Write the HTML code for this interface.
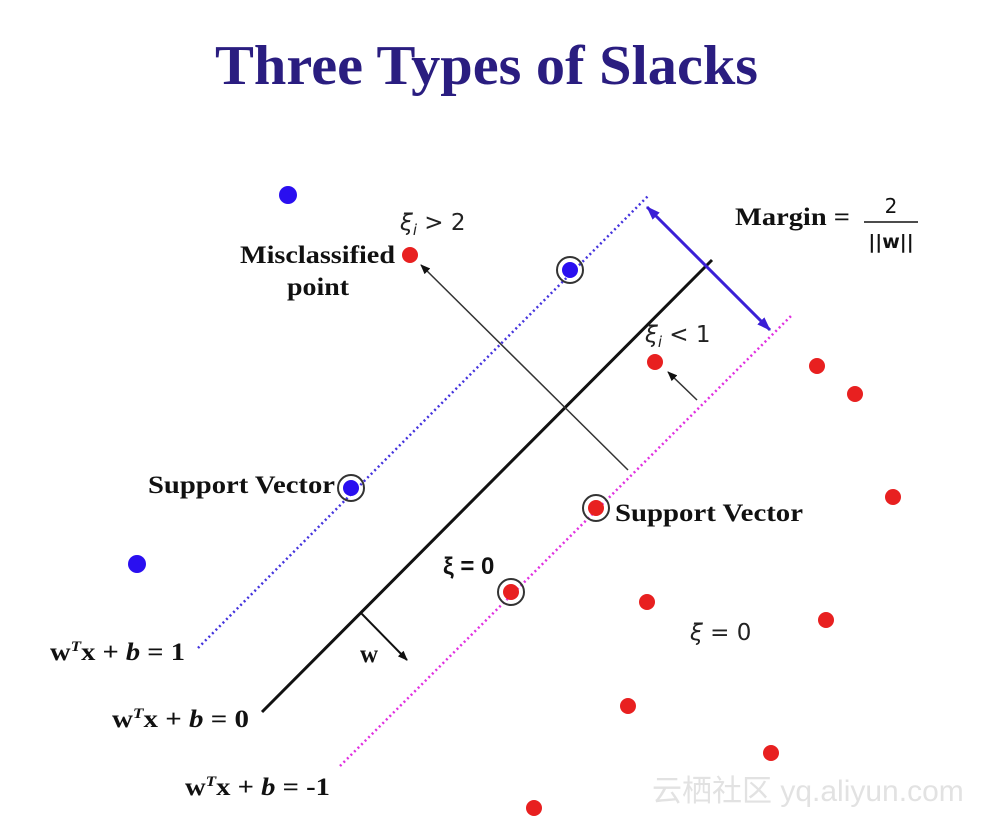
<!DOCTYPE html>
<html><head><meta charset="utf-8"><style>
body{margin:0;background:#fff;}
svg{display:block}
.b{font-family:"Liberation Serif",serif;font-weight:bold;font-size:25px;fill:#111}
.m{font-family:"DejaVu Sans",sans-serif;font-size:23px;fill:#222}
</style></head><body>
<svg width="990" height="817" viewBox="0 0 990 817">
<defs>
<marker id="a" markerWidth="10" markerHeight="8" refX="9" refY="4" orient="auto" markerUnits="userSpaceOnUse"><path d="M0,0 L10,4 L0,8 z" fill="#111"/></marker>
<marker id="p" markerWidth="14" markerHeight="10" refX="13" refY="5" orient="auto-start-reverse" markerUnits="userSpaceOnUse"><path d="M0,0 L14,5 L0,10 z" fill="#3b1fd6"/></marker>
</defs>
<text x="215" y="84" textLength="543" lengthAdjust="spacingAndGlyphs" font-family="Liberation Serif,serif" font-weight="bold" font-size="56" fill="#2a1d80">Three Types of Slacks</text>
<line x1="198" y1="648" x2="648" y2="196" stroke="#4433dd" stroke-width="2.5" stroke-dasharray="2,3"/>
<line x1="340" y1="766" x2="792" y2="315" stroke="#e030e0" stroke-width="2.5" stroke-dasharray="2,3"/>
<line x1="262" y1="712" x2="712" y2="260" stroke="#111" stroke-width="3"/>
<line x1="647" y1="207" x2="770" y2="330" stroke="#3b1fd6" stroke-width="3" marker-start="url(#p)" marker-end="url(#p)"/>
<line x1="628" y1="470" x2="421" y2="265" stroke="#333" stroke-width="1.5" marker-end="url(#a)"/>
<line x1="697" y1="400" x2="668" y2="372" stroke="#333" stroke-width="1.5" marker-end="url(#a)"/>
<line x1="360" y1="612" x2="407" y2="660" stroke="#111" stroke-width="2" marker-end="url(#a)"/>
<g fill="#2a0ff0">
<circle cx="288" cy="195" r="9"/><circle cx="570" cy="270" r="8"/><circle cx="351" cy="488" r="8"/><circle cx="137" cy="564" r="9"/>
</g>
<g fill="#e82020">
<circle cx="410" cy="255" r="8"/><circle cx="655" cy="362" r="8"/><circle cx="817" cy="366" r="8"/><circle cx="855" cy="394" r="8"/><circle cx="893" cy="497" r="8"/><circle cx="596" cy="508" r="8"/><circle cx="511" cy="592" r="8"/><circle cx="647" cy="602" r="8"/><circle cx="826" cy="620" r="8"/><circle cx="628" cy="706" r="8"/><circle cx="771" cy="753" r="8"/><circle cx="534" cy="808" r="8"/>
</g>
<g fill="none" stroke="#333" stroke-width="2">
<circle cx="570" cy="270" r="13"/><circle cx="351" cy="488" r="13"/><circle cx="596" cy="508" r="13"/><circle cx="511" cy="592" r="13"/>
</g>
<text class="b" x="240" y="263" textLength="155" lengthAdjust="spacingAndGlyphs">Misclassified</text>
<text class="b" x="287" y="295" textLength="62" lengthAdjust="spacingAndGlyphs">point</text>
<text class="b" x="148" y="493" textLength="187" lengthAdjust="spacingAndGlyphs">Support Vector</text>
<text class="b" x="615" y="521" textLength="188" lengthAdjust="spacingAndGlyphs">Support Vector</text>
<text class="b" x="735" y="225" textLength="115" lengthAdjust="spacingAndGlyphs">Margin =</text>
<text x="891" y="213" text-anchor="middle" font-family="DejaVu Sans,sans-serif" font-size="20" fill="#111">2</text>
<line x1="864" y1="222" x2="918" y2="222" stroke="#111" stroke-width="1.5"/>
<text x="891" y="248" text-anchor="middle" font-family="DejaVu Sans,sans-serif" font-weight="bold" font-size="19" fill="#111">||w||</text>
<text class="m" x="400" y="230"><tspan font-style="italic">ξ</tspan><tspan font-size="15" font-style="italic" dy="5">i</tspan><tspan dy="-5"> &gt; 2</tspan></text>
<text class="m" x="645" y="342"><tspan font-style="italic">ξ</tspan><tspan font-size="15" font-style="italic" dy="5">i</tspan><tspan dy="-5"> &lt; 1</tspan></text>
<text x="443" y="574" font-family="Liberation Sans,sans-serif" font-weight="bold" font-size="24" fill="#111">ξ = 0</text>
<text class="m" x="690" y="640" font-style="italic">ξ <tspan font-style="normal">= 0</tspan></text>
<text class="b" x="360" y="662">w</text>
<text class="b" x="50" y="660" textLength="135" lengthAdjust="spacingAndGlyphs">w<tspan font-size="15" dy="-9" font-style="italic">T</tspan><tspan dy="9">x + </tspan><tspan font-style="italic">b</tspan> = 1</text>
<text class="b" x="112" y="727" textLength="137" lengthAdjust="spacingAndGlyphs">w<tspan font-size="15" dy="-9" font-style="italic">T</tspan><tspan dy="9">x + </tspan><tspan font-style="italic">b</tspan> = 0</text>
<text class="b" x="185" y="795" textLength="145" lengthAdjust="spacingAndGlyphs">w<tspan font-size="15" dy="-9" font-style="italic">T</tspan><tspan dy="9">x + </tspan><tspan font-style="italic">b</tspan> = -1</text>
<text x="652" y="801" font-family="Liberation Sans,'Noto Sans CJK SC',sans-serif" font-size="30" fill="#e2e2e2">云栖社区 yq.aliyun.com</text>
</svg>
</body></html>
